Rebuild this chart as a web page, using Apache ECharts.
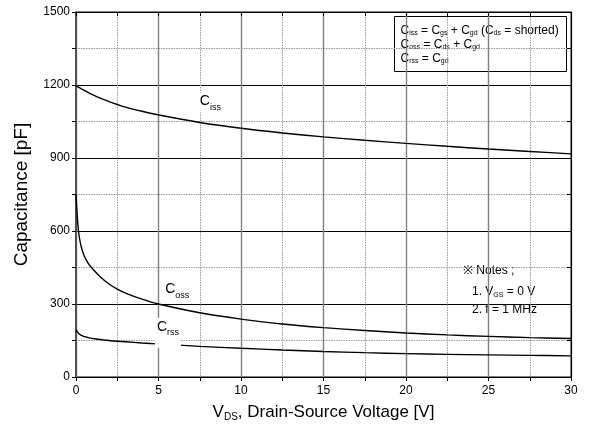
<!DOCTYPE html>
<html><head><meta charset="utf-8">
<script src="https://cdn.jsdelivr.net/npm/echarts@6/dist/echarts.min.js"></script>
<style>html,body{margin:0;padding:0;background:#fff}#c{width:589px;height:439px}</style>
</head><body><div id="c"></div>
<script>
// V_DS sample points [V]
const vds  = [0, 0.15, 0.3, 0.5, 0.75, 1, 1.5, 2, 2.5, 3, 4, 5, 7.5, 10, 12.5, 15, 17.5, 20, 22.5, 25, 27.5, 30];
// capacitances [pF]
const ciss = [1197, 1191, 1185, 1178, 1169, 1160, 1145, 1132, 1120, 1109, 1092, 1077, 1046, 1022, 1003, 987, 973, 960, 948, 937, 927, 917];
const coss = [750, 600, 540, 497, 466, 445, 410, 382, 361, 345, 320, 300, 264, 238, 218, 203, 191, 181, 173, 167, 162, 158];
const crss = [195, 180, 172, 166, 162, 158, 154, 150, 147, 145, 140, 136, 126, 118, 111, 105, 100, 96, 93, 91, 89, 87];
const xTickLabels = [0, 5, 10, 15, 20, 25, 30];
const yTickLabels = [0, 300, 600, 900, 1200, 1500];
// curve label anchors (data coords)
const curveLabels = [
  {name: 'iss', at: [7.35, 1128]},
  {name: 'oss', at: [5.25, 355]},
  {name: 'rss', at: [4.75, 182]}
];

const FONT = '"Liberation Sans", Arial, sans-serif';
const chart = echarts.init(document.getElementById('c'), null, {renderer: 'canvas'});

const xMin = xTickLabels[0], xMax = xTickLabels[xTickLabels.length - 1];
const xInt = xTickLabels[1] - xTickLabels[0];
const yMin = yTickLabels[0], yMax = yTickLabels[yTickLabels.length - 1];
const yInt = yTickLabels[1] - yTickLabels[0];

function pairs(ys) { return vds.map((x, i) => [x, ys[i]]); }

const bigRich = {
  b: {fontSize: 14, fontFamily: FONT, color: '#000', lineHeight: 18},
  s: {fontSize: 9, fontFamily: FONT, color: '#000', lineHeight: 18, padding: [12, 0, 0, 0]}
};
const labelPads = [[0, 2, 2, 2], [0, 2, 2, 2], [0, 2, 12, 2]];

function curveMark(idx) {
  const l = curveLabels[idx];
  return {
    symbol: 'rect', symbolSize: 1, itemStyle: {color: 'rgba(0,0,0,0)'},
    label: {
      show: true, position: 'right', distance: 0,
      formatter: '{b|C}{s|' + l.name + '}',
      backgroundColor: '#fff', padding: labelPads[idx],
      rich: bigRich
    },
    data: [{coord: l.at}]
  };
}

const lineStyle = {color: '#000', width: 1.4};
function mkSeries(name, ys, idx) {
  return {
    name, type: 'line', data: pairs(ys), showSymbol: false, symbol: 'none',
    smooth: 0.35, lineStyle, xAxisIndex: 0, yAxisIndex: 0,
    markPoint: curveMark(idx), z: 3, animation: false
  };
}

const subRich = {
  m: {fontSize: 12, fontFamily: FONT, color: '#000', lineHeight: 14},
  s: {fontSize: 7, fontFamily: FONT, color: '#000', lineHeight: 14, padding: [6, 0, 0, 0]}
};

function tickAxis(pos, min, max, interval, inside) {
  return {
    type: 'value', min, max, interval, position: pos,
    axisLine: {show: pos === 'top' || pos === 'right', onZero: false, lineStyle: {color: '#000'}},
    axisTick: {show: true, inside, length: 4, lineStyle: {color: '#000'}},
    axisLabel: {show: false}, splitLine: {show: false}
  };
}

const option = {
  animation: false,
  textStyle: {fontFamily: FONT},
  grid: {left: 76, right: 18, top: 12, bottom: 62, show: true, borderColor: '#000', borderWidth: 1},
  xAxis: [{
    type: 'value', min: xMin, max: xMax, interval: xInt, position: 'bottom',
    axisLine: {show: true, lineStyle: {color: '#000', width: 1.2}},
    axisTick: {show: false},
    splitLine: {show: true, lineStyle: {color: '#808080', width: 1.4}},
    minorTick: {show: false, splitNumber: 2},
    minorSplitLine: {show: true, lineStyle: {color: '#9a9a9a', width: 1, type: [1.5, 1]}},
    axisLabel: {color: '#000', fontSize: 12, margin: 8, fontFamily: FONT},
    name: '{m|V}{s|DS}{m|, Drain-Source Voltage [V]}',
    nameLocation: 'middle', nameGap: 23,
    nameTextStyle: {
      rich: {
        m: {fontSize: 17, fontFamily: FONT, color: '#000', lineHeight: 20},
        s: {fontSize: 10, fontFamily: FONT, color: '#000', lineHeight: 20, padding: [10, 0, 0, 0]}
      }
    }
  },
    tickAxis('top', xMin, xMax, xInt / 2, true),
    tickAxis('bottom', xMin, xMax, xInt / 2, false)
  ],
  yAxis: [{
    type: 'value', min: yMin, max: yMax, interval: yInt, position: 'left',
    axisLine: {show: true, lineStyle: {color: '#444', width: 1.6}},
    axisTick: {show: false},
    minorTick: {show: false, splitNumber: 2},
    splitLine: {show: true, lineStyle: {color: '#000', width: 1.2}},
    minorSplitLine: {show: true, lineStyle: {color: '#9a9a9a', width: 1, type: [1.5, 1]}},
    axisLabel: {color: '#000', fontSize: 12, margin: 6, fontFamily: FONT, formatter: v => String(v)},
    name: 'Capacitance [pF]', nameLocation: 'middle', nameGap: 45,
    nameTextStyle: {fontSize: 19, color: '#000', fontFamily: FONT}
  },
    tickAxis('right', yMin, yMax, yInt / 2, true),
    tickAxis('left', yMin, yMax, yInt / 2, false)
  ],
  series: [
    mkSeries('Ciss', ciss, 0),
    mkSeries('Coss', coss, 1),
    mkSeries('Crss', crss, 2)
  ],
  graphic: [{
    type: 'group', left: 394, top: 16, z: 10,
    children: [
      {type: 'rect', shape: {x: 0, y: 0, width: 172, height: 55},
       style: {fill: '#fff', stroke: '#000', lineWidth: 1}},
      {type: 'text', x: 6, y: 7, style: {
        text: '{m|C}{s|iss}{m| = C}{s|gs}{m| + C}{s|gd}{m| (C}{s|ds}{m| = shorted)}\n' +
              '{m|C}{s|oss}{m| = C}{s|ds}{m| + C}{s|gd}\n' +
              '{m|C}{s|rss}{m| = C}{s|gd}',
        rich: subRich, fill: '#000'
      }}
    ]
  }, {
    type: 'group', left: 455, top: 258, z: 10,
    children: [
      {type: 'rect', shape: {x: 0, y: 0, width: 93, height: 62}, style: {fill: '#fff'}},
      {type: 'text', x: 8, y: 6, style: {
        text: '{m|\u203B Notes ;}', rich: {m: {fontSize: 12, fontFamily: FONT, color: '#000', lineHeight: 14}}
      }},
      {type: 'text', x: 17, y: 25, style: {
        text: '{m|1. V}{s|GS}{m| = 0 V}\n{m|2. f = 1 MHz}',
        rich: {
          m: {fontSize: 12, fontFamily: FONT, color: '#000', lineHeight: 18},
          s: {fontSize: 7, fontFamily: FONT, color: '#000', lineHeight: 18, padding: [6, 0, 0, 0]}
        }
      }}
    ]
  }]
};
chart.setOption(option);
</script>
</body></html>
